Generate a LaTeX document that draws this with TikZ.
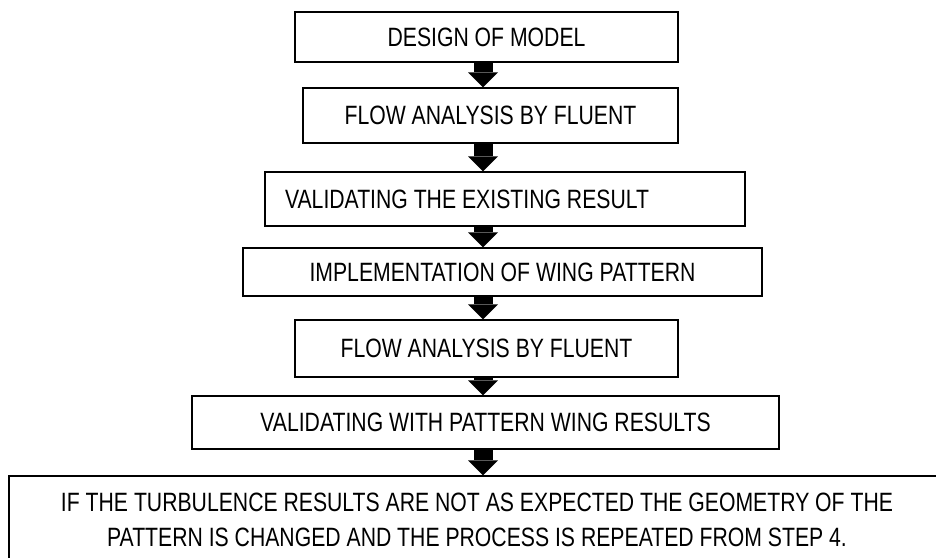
\documentclass[tikz,border=0pt]{standalone}
\usepackage{fontspec}
\setmainfont[FakeStretch=0.8]{Liberation Sans}
\usetikzlibrary{arrows.meta}

\begin{document}
\begin{tikzpicture}[x=1pt, y=-1pt,
    stepbox/.style={draw=black, line width=1.1pt, inner sep=0pt, align=center,
      font=\fontsize{26.5}{35}\selectfont},
    flowarrow/.style={line width=19pt,
      -{Triangle[width=30pt, length=15pt, line width=0pt]}}]
  % Marco
  \clip (0,0) rectangle (936,557);

  % Pasos
  \node[stepbox, minimum width=383pt, minimum height=50pt] (design) at (486.5,37) {DESIGN OF MODEL};
  \node[stepbox, minimum width=375pt, minimum height=55pt] (fluenta) at (490.5,115.5) {FLOW ANALYSIS BY FLUENT};
  \node[stepbox, align=flush left, text width=440pt, inner xsep=20pt, minimum height=54pt] (existing) at (505,199) {VALIDATING THE EXISTING RESULT};
  \node[stepbox, minimum width=519pt, minimum height=48pt] (pattern) at (502.5,272) {IMPLEMENTATION OF WING PATTERN};
  \node[stepbox, minimum width=383pt, minimum height=57pt] (fluentb) at (486.5,348.5) {FLOW ANALYSIS BY FLUENT};
  \node[stepbox, minimum width=587pt, minimum height=53pt] (wing) at (485.5,422.5) {VALIDATING WITH PATTERN WING RESULTS};
  \node[stepbox, minimum width=936pt, minimum height=88pt] (repeat) at (477,520)
    {IF THE TURBULENCE RESULTS ARE NOT AS EXPECTED THE GEOMETRY OF THE\\
     PATTERN IS CHANGED AND THE PROCESS IS REPEATED FROM STEP 4.};

  % Flechas
  \coordinate (axis) at (483,0);
  \foreach \a/\b in {design/fluenta, fluenta/existing, existing/pattern,
                     pattern/fluentb, fluentb/wing, wing/repeat}
    \draw[flowarrow] (\a.south -| axis) -- (\b.north -| axis);
\end{tikzpicture}
\end{document}
